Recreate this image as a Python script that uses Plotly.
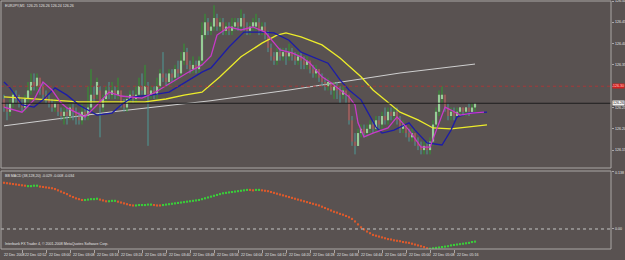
import plotly.graph_objects as go

# ---------------- data ----------------
bar_index = list(range(158))

open_prices = [
126.27,126.25,126.24,126.26,126.28,126.27,126.26,126.25,126.27,126.29,
126.31,126.30,126.32,126.30,126.28,126.27,126.26,126.25,126.26,126.24,
126.23,126.24,126.23,126.25,126.24,126.23,126.22,126.24,126.23,126.25,
126.28,126.28,126.29,126.25,126.27,126.29,126.28,126.29,126.28,126.29,
126.26,126.25,126.27,126.28,126.27,126.28,126.30,126.28,126.30,126.28,
126.29,126.28,126.30,126.33,126.32,126.31,126.33,126.32,126.34,126.33,
126.36,126.38,126.35,126.34,126.35,126.34,126.36,126.42,126.45,126.43,
126.44,126.46,126.44,126.45,126.43,126.44,126.43,126.44,126.45,126.44,
126.46,126.44,126.43,126.44,126.44,126.45,126.43,126.44,126.42,126.39,
126.37,126.36,126.38,126.37,126.38,126.37,126.38,126.37,126.36,126.37,
126.36,126.35,126.36,126.34,126.33,126.34,126.32,126.31,126.30,126.31,
126.29,126.30,126.29,126.28,126.29,126.28,126.22,126.17,126.16,126.19,
126.20,126.19,126.20,126.21,126.20,126.22,126.21,126.23,126.22,126.24,
126.23,126.24,126.22,126.20,126.21,126.19,126.18,126.19,126.17,126.16,
126.15,126.16,126.15,126.17,126.21,126.24,126.27,126.28,126.25,126.23,
126.24,126.23,126.24,126.25,126.24,126.25,126.24,126.25]

high_prices = [
126.28,126.26,126.27,126.29,126.29,126.28,126.27,126.28,126.31,126.33,
126.33,126.33,126.32,126.31,126.29,126.28,126.27,126.27,126.26,126.25,
126.25,126.25,126.26,126.26,126.25,126.24,126.26,126.25,126.30,126.34,
126.30,126.32,126.30,126.28,126.30,126.31,126.31,126.30,126.32,126.29,
126.27,126.28,126.29,126.29,126.30,126.32,126.33,126.35,126.31,126.30,
126.30,126.32,126.34,126.38,126.33,126.34,126.34,126.35,126.36,126.38,
126.40,126.39,126.36,126.37,126.36,126.37,126.45,126.47,126.46,126.45,
126.49,126.47,126.46,126.46,126.45,126.45,126.46,126.46,126.46,126.48,
126.47,126.45,126.45,126.46,126.47,126.46,126.45,126.45,126.43,126.40,
126.38,126.39,126.39,126.39,126.39,126.40,126.39,126.38,126.38,126.38,
126.37,126.37,126.36,126.35,126.35,126.34,126.33,126.32,126.32,126.31,
126.31,126.31,126.30,126.30,126.29,126.28,126.23,126.19,126.20,126.21,
126.21,126.21,126.22,126.22,126.23,126.23,126.24,126.25,126.25,126.25,
126.25,126.25,126.23,126.22,126.21,126.20,126.20,126.19,126.18,126.17,
126.17,126.17,126.18,126.22,126.25,126.29,126.30,126.28,126.26,126.25,
126.25,126.25,126.25,126.25,126.25,126.26,126.26,126.26]

low_prices = [
126.24,126.22,126.23,126.25,126.26,126.25,126.24,126.24,126.26,126.28,
126.29,126.29,126.28,126.27,126.26,126.25,126.24,126.24,126.23,126.22,
126.21,126.21,126.22,126.22,126.21,126.21,126.21,126.22,126.22,126.24,
126.26,126.27,126.18,126.24,126.26,126.27,126.27,126.27,126.27,126.25,
126.24,126.24,126.26,126.26,126.26,126.27,126.28,126.27,126.16,126.27,
126.27,126.27,126.29,126.31,126.30,126.30,126.31,126.31,126.32,126.32,
126.35,126.34,126.33,126.33,126.33,126.33,126.35,126.41,126.42,126.42,
126.43,126.43,126.43,126.42,126.42,126.42,126.42,126.43,126.43,126.43,
126.43,126.42,126.42,126.43,126.43,126.42,126.42,126.41,126.38,126.36,
126.35,126.35,126.36,126.36,126.35,126.36,126.36,126.35,126.35,126.34,
126.34,126.34,126.33,126.32,126.32,126.31,126.30,126.29,126.29,126.28,
126.27,126.27,126.26,126.27,126.26,126.21,126.16,126.14,126.16,126.18,
126.18,126.18,126.19,126.19,126.19,126.20,126.20,126.21,126.21,126.22,
126.22,126.21,126.19,126.19,126.18,126.17,126.17,126.16,126.15,126.14,
126.14,126.14,126.14,126.16,126.20,126.23,126.26,126.24,126.22,126.22,
126.22,126.23,126.23,126.23,126.23,126.23,126.24,126.24]

close_prices = [
126.25,126.24,126.26,126.28,126.27,126.26,126.25,126.27,126.29,126.31,
126.30,126.32,126.30,126.28,126.27,126.26,126.25,126.26,126.24,126.23,
126.24,126.23,126.25,126.24,126.23,126.22,126.24,126.23,126.25,126.28,
126.27,126.31,126.25,126.27,126.29,126.28,126.29,126.28,126.29,126.26,
126.25,126.27,126.28,126.27,126.28,126.30,126.29,126.30,126.28,126.29,
126.28,126.30,126.33,126.32,126.31,126.33,126.32,126.34,126.33,126.36,
126.38,126.35,126.34,126.35,126.34,126.36,126.42,126.45,126.43,126.44,
126.46,126.44,126.45,126.43,126.44,126.43,126.44,126.45,126.44,126.46,
126.44,126.43,126.44,126.45,126.45,126.43,126.44,126.42,126.39,126.37,
126.36,126.38,126.37,126.38,126.37,126.38,126.37,126.36,126.37,126.36,
126.35,126.36,126.34,126.33,126.34,126.32,126.31,126.30,126.31,126.29,
126.30,126.29,126.28,126.29,126.28,126.22,126.17,126.16,126.19,126.20,
126.19,126.20,126.21,126.20,126.22,126.21,126.23,126.22,126.24,126.23,
126.24,126.22,126.20,126.21,126.19,126.18,126.19,126.17,126.16,126.15,
126.16,126.15,126.17,126.21,126.24,126.28,126.28,126.25,126.23,126.24,
126.23,126.24,126.25,126.24,126.25,126.24,126.25,126.26]

# moving averages (bar index, price)
magenta_x = [0,6,10,13,16,19,21,27,31,35,39,46,50,56,61,66,69,71,75,79,83,87,90,92,96,99,102,106,109,112,
             115,117,118,120,123,128,131,135,139,142,145,147,149,152,156,160]
magenta_y = [126.251,126.239,126.268,126.310,126.291,126.261,126.249,126.228,126.256,126.286,
             126.277,126.272,126.284,126.310,126.331,126.350,126.371,126.420,126.439,126.432,
             126.439,126.427,126.401,126.385,126.378,126.369,126.354,126.322,126.308,126.291,
             126.275,126.256,126.214,126.181,126.190,126.202,126.228,126.197,126.157,126.157,
             126.214,126.251,126.244,126.232,126.237,126.239]

blue_x = [0,2,6,10,13,17,21,25,31,36,39,43,49,55,59,66,69,75,80,86,90,95,99,103,108,112,115,119,122,124,
          126,130,135,137,141,146,149,151,155,161]
blue_y = [126.310,126.296,126.256,126.251,126.268,126.296,126.279,126.256,126.232,126.237,
          126.256,126.275,126.279,126.286,126.303,126.333,126.343,126.392,126.427,126.427,
          126.425,126.408,126.380,126.369,126.354,126.315,126.291,126.268,126.228,126.204,
          126.190,126.197,126.214,126.197,126.167,126.162,126.197,126.228,126.237,126.239]

yellow_x = [0,12,25,36,47,54,60,66,69,72,79,86,91,94,99,106,112,119,123,128,132,138,143,149,155,161]
yellow_y = [126.275,126.270,126.263,126.263,126.263,126.270,126.279,126.286,126.303,126.322,
            126.369,126.401,126.420,126.425,126.416,126.397,126.366,126.322,126.291,126.261,
            126.239,126.221,126.202,126.200,126.205,126.209]

gray_x = [0,35,69,95,132,157]
gray_y = [126.207,126.239,126.266,126.291,126.331,126.352]

macd_values = [
0.110,0.109,0.108,0.107,0.106,0.105,0.104,0.103,0.102,0.102,
0.103,0.103,0.101,0.100,0.099,0.098,0.097,0.095,0.092,0.089,
0.086,0.083,0.079,0.076,0.073,0.071,0.069,0.069,0.070,0.071,
0.071,0.072,0.070,0.068,0.066,0.066,0.067,0.067,0.065,0.063,
0.061,0.059,0.057,0.056,0.056,0.057,0.057,0.057,0.058,0.058,
0.057,0.056,0.056,0.057,0.058,0.059,0.060,0.061,0.062,0.063,
0.064,0.065,0.066,0.067,0.068,0.069,0.071,0.073,0.075,0.077,
0.079,0.081,0.083,0.085,0.086,0.087,0.088,0.089,0.090,0.091,
0.092,0.093,0.093,0.092,0.093,0.093,0.092,0.091,0.090,0.088,
0.086,0.084,0.082,0.080,0.078,0.076,0.074,0.072,0.070,0.068,
0.066,0.064,0.062,0.060,0.058,0.056,0.053,0.050,0.047,0.044,
0.041,0.039,0.036,0.034,0.031,0.028,0.024,0.018,0.011,0.004,
-0.001,-0.006,-0.010,-0.014,-0.016,-0.018,-0.020,-0.022,-0.024,-0.025,
-0.027,-0.028,-0.029,-0.031,-0.032,-0.033,-0.035,-0.037,-0.039,-0.041,
-0.043,-0.046,-0.047,-0.046,-0.045,-0.044,-0.043,-0.042,-0.041,-0.039,
-0.038,-0.037,-0.036,-0.035,-0.034,-0.033,-0.031,-0.030]
macd_green_ranges = [(8, 11), (27, 31), (35, 37), (44, 49), (53, 81), (84, 85), (142, 157)]

time_labels = ["22 Dec 2008", "22 Dec 02:52", "22 Dec 03:00", "22 Dec 03:08", "22 Dec 03:16",
               "22 Dec 03:24", "22 Dec 03:32", "22 Dec 03:40", "22 Dec 03:48", "22 Dec 03:56",
               "22 Dec 04:04", "22 Dec 04:12", "22 Dec 04:20", "22 Dec 04:28", "22 Dec 04:36",
               "22 Dec 04:44", "22 Dec 04:52", "22 Dec 05:00", "22 Dec 05:08", "22 Dec 05:16"]
price_ticks = [126.50, 126.45, 126.40, 126.35, 126.25, 126.20, 126.15]
title_text = "EURJPY,M1  126.25 126.26 126.24 126.26"
macd_title = "BB MACD (38,128,20) -0.029 -0.008 -0.034"
copyright_text = "Interbank FX Trader 4, \u00a9 2001-2008 MetaQuotes Software Corp."

# ---------------- styling ----------------
BG = "#595251"
FRAME = "#aaa6a5"
TXT = "#e4e4e4"
FONT = "Liberation Sans"
UP_WICK = "#2f9c2f"
DN_WICK = "#4f9a98"
UP_BODY = "#ffffff"
DN_BODY = "#dc1e1e"
GREEN_DOT = "#3acc3a"
ORANGE_DOT = "#dc5a2c"

MAIN_DOM = [0.3266, 1.0]
SUB_DOM = [0.0, 0.3145]

fig = go.Figure()

up = [c >= o for o, c in zip(open_prices, close_prices)]

# long MA under everything
fig.add_trace(go.Scatter(x=gray_x, y=gray_y, mode="lines",
                         line=dict(color="#cfcfcf", width=1), hoverinfo="skip"))

# wicks
for sel, col in ((True, UP_WICK), (False, DN_WICK)):
    xs, ys = [], []
    for i, h, l, s in zip(bar_index, high_prices, low_prices, up):
        if s == sel:
            xs += [i, i, None]
            ys += [l, h, None]
    fig.add_trace(go.Scatter(x=xs, y=ys, mode="lines", line=dict(color=col, width=1),
                             hoverinfo="skip", connectgaps=False))

# bodies
for sel, col in ((True, UP_BODY), (False, DN_BODY)):
    xs = [i for i, s in zip(bar_index, up) if s == sel]
    base = [min(o, c) for o, c, s in zip(open_prices, close_prices, up) if s == sel]
    hgt = [abs(c - o) for o, c, s in zip(open_prices, close_prices, up) if s == sel]
    fig.add_trace(go.Bar(x=xs, y=hgt, base=base, width=0.7,
                         marker=dict(color=col, line=dict(width=0)), hoverinfo="skip"))

# moving averages
fig.add_trace(go.Scatter(x=yellow_x, y=yellow_y, mode="lines",
                         line=dict(color="#ecec2a", width=1.3), hoverinfo="skip"))
fig.add_trace(go.Scatter(x=blue_x, y=blue_y, mode="lines",
                         line=dict(color="#1c1ca8", width=1.3), hoverinfo="skip"))
fig.add_trace(go.Scatter(x=magenta_x, y=magenta_y, mode="lines",
                         line=dict(color="#c83ac8", width=1.3), hoverinfo="skip"))

# MACD dots
macd_colors = []
for i in bar_index:
    g = any(a <= i <= b for a, b in macd_green_ranges)
    macd_colors.append(GREEN_DOT if g else ORANGE_DOT)
fig.add_trace(go.Scatter(x=bar_index, y=macd_values, mode="markers", yaxis="y2",
                         marker=dict(symbol="square", size=2.1, color=macd_colors, line=dict(width=0)),
                         hoverinfo="skip"))

shapes = [
    dict(type="line", xref="paper", x0=0, x1=1, yref="y", y0=126.30, y1=126.30,
         line=dict(color="#a83838", width=1, dash="dot")),
    dict(type="line", xref="paper", x0=0, x1=1, yref="y", y0=126.26, y1=126.26,
         line=dict(color="#1c1c1c", width=1)),
    dict(type="line", xref="paper", x0=0, x1=1, yref="y2", y0=0, y1=0,
         line=dict(color="#c4c4c4", width=1, dash="dot")),
    dict(type="rect", xref="paper", x0=0, x1=1, yref="paper", y0=MAIN_DOM[0], y1=MAIN_DOM[1],
         line=dict(color=FRAME, width=1)),
    dict(type="rect", xref="paper", x0=0, x1=1, yref="paper", y0=SUB_DOM[0], y1=SUB_DOM[1],
         line=dict(color=FRAME, width=1)),
]

small = dict(family=FONT, size=3.6, color=TXT)
ann = []
ann.append(dict(text=title_text, xref="paper", yref="paper", x=0, y=1, xanchor="left", yanchor="top",
                xshift=2, yshift=-1, showarrow=False, font=small))
ann.append(dict(text=macd_title, xref="paper", yref="paper", x=0, y=SUB_DOM[1], xanchor="left",
                yanchor="top", xshift=2, yshift=-1, showarrow=False, font=small))
ann.append(dict(text=copyright_text, xref="paper", yref="paper", x=0, y=0, xanchor="left",
                yanchor="bottom", xshift=2, yshift=1, showarrow=False, font=small))

tick_pos = [6, 14, 22, 30, 38, 46, 54, 62, 70, 78, 86, 94, 102, 110, 118, 126, 134, 142, 150]
label_pos = [-0.9] + tick_pos
for p, t in zip(label_pos, time_labels):
    ann.append(dict(text=t, xref="x", yref="paper", x=p, y=0, xanchor="left", yanchor="top",
                    xshift=1, yshift=-2, showarrow=False, font=small))

for v in price_ticks:
    ann.append(dict(text=f"{v:.2f}", xref="paper", yref="y", x=1, y=v, xanchor="left",
                    yanchor="middle", xshift=2, showarrow=False, font=small))
ann.append(dict(text="126.30", xref="paper", yref="y", x=1, y=126.30, xanchor="left", yanchor="middle",
                xshift=1, showarrow=False, bgcolor="#d42020", borderpad=0,
                font=dict(family=FONT, size=3.6, color="#ffd0d0")))
ann.append(dict(text="126.26", xref="paper", yref="y", x=1, y=126.26, xanchor="left", yanchor="middle",
                xshift=1, showarrow=False, bgcolor="#f2f2f2", borderpad=0,
                font=dict(family=FONT, size=3.6, color="#202020")))
for v, t in ((0.138, "0.138"), (0.0, "0.00"), (-0.050, "-0.050")):
    ann.append(dict(text=t, xref="paper", yref="y2", x=1, y=v, xanchor="left", yanchor="middle",
                    xshift=2, yshift=(-2 if v > 0.1 else 0), showarrow=False, font=small))

fig.update_layout(
    width=625, height=260,
    margin=dict(l=1, r=14, t=1, b=11),
    paper_bgcolor=BG, plot_bgcolor=BG,
    showlegend=False, barmode="overlay",
    shapes=shapes, annotations=ann,
    xaxis=dict(range=[-1, 202.33], anchor="y2", showgrid=False, zeroline=False, showline=False,
               tickvals=tick_pos, ticks="outside", ticklen=3, tickcolor=FRAME,
               showticklabels=False, rangeslider=dict(visible=False)),
    yaxis=dict(domain=MAIN_DOM, range=[126.108, 126.50], side="right", showgrid=False,
               zeroline=False, showline=False, tickvals=price_ticks + [126.30],
               ticks="outside", ticklen=2, tickcolor=FRAME, showticklabels=False),
    yaxis2=dict(domain=SUB_DOM, range=[-0.0476, 0.138], side="right", showgrid=False,
                zeroline=False, showline=False, tickvals=[0.138, 0.0],
                ticks="outside", ticklen=2, tickcolor=FRAME, showticklabels=False),
)

fig.write_html("out.html")
